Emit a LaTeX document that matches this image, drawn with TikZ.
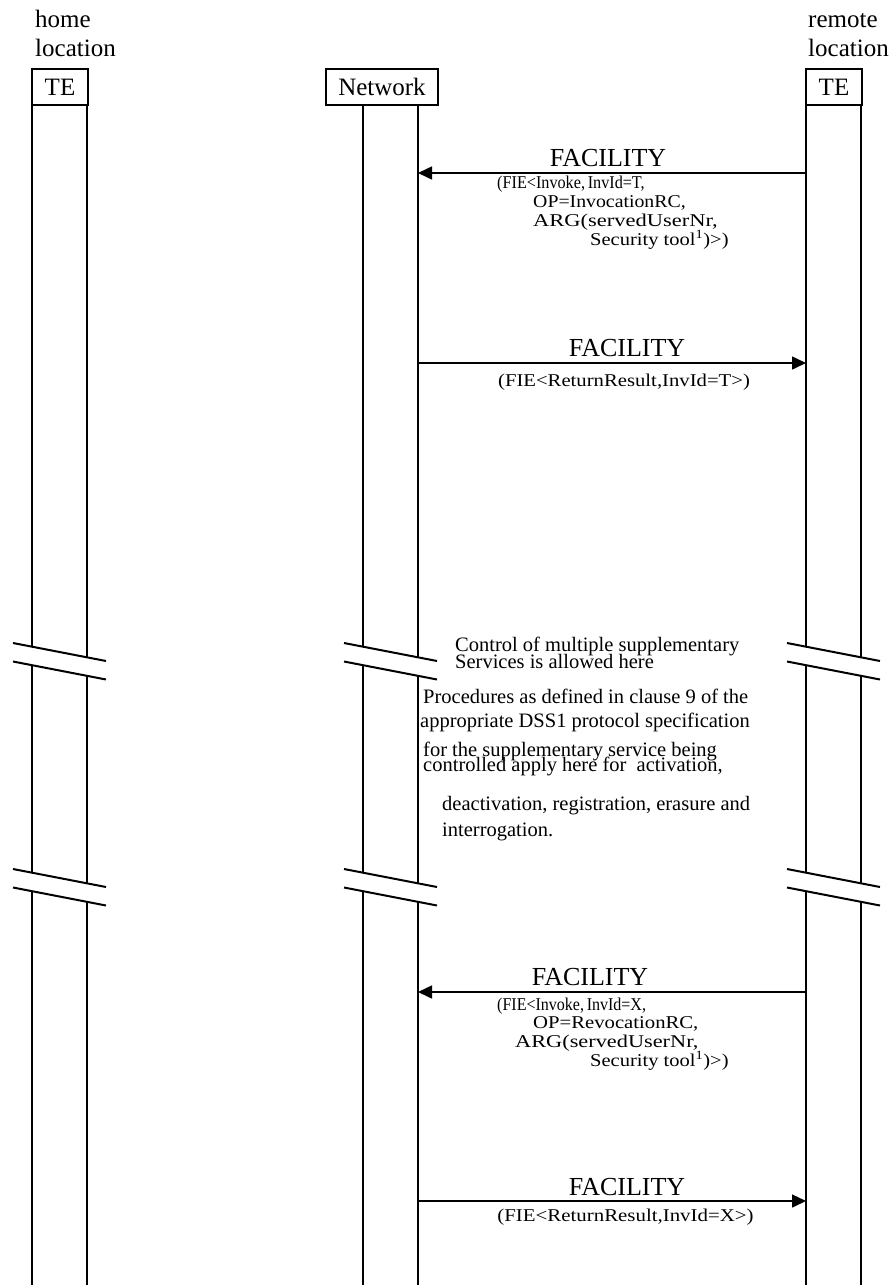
\documentclass[tikz,border=0pt]{standalone}
\usepackage{fontspec}
\usepackage{graphicx}
\setmainfont{Liberation Serif}
\usetikzlibrary{arrows.meta}

% horizontally stretched parameter text
\newcommand\wide[2]{\scalebox{#1}[1]{#2}}

% one unit = 1pt, y grows downwards
\begin{document}
\begin{tikzpicture}[x=1pt,y=-1pt,
  hdr/.style={font=\fontsize{25}{29}\selectfont, inner sep=0pt, anchor=base west},
  entity/.style={draw, line width=2pt, minimum height=36pt, inner sep=0pt,
                 font=\fontsize{25}{29}\selectfont},
  life/.style={line width=2pt},
  brkline/.style={line width=2pt},
  msg/.style={line width=1.5pt, -{Triangle[length=14pt,width=13pt]}},
  msgname/.style={font=\fontsize{26}{30}\selectfont, inner sep=0pt, anchor=base},
  param/.style={font=\fontsize{18}{21}\selectfont, inner sep=0pt, anchor=base west},
  note/.style={font=\fontsize{20.5}{24}\selectfont, inner sep=0pt, anchor=base west},
]
\useasboundingbox (0,0) rectangle (895,1285);

% location captions
\node[hdr] (homeA) at (35,27) {home};
\node[hdr] (homeB) at (35,56) {location};
\node[hdr] (remA) at (808,27) {remote};
\node[hdr] (remB) at (808,56) {location};

% entity boxes
\node[entity, minimum width=56pt]  (teA) at (60,87)  {TE};
\node[entity, minimum width=112pt] (net) at (382,87) {Network};
\node[entity, minimum width=56pt]  (teB) at (834,87) {TE};

% break marks: #1 = left end of the slashes, #2 = top of the upper slash
\newcommand\brkmark[2]{%
  \draw[brkline] (#1,#2) -- ++(93,18);
  \draw[brkline] (#1,{#2+18.5}) -- ++(93,18);}
% lifeline at x=#1, offset #2 from the left end of its break marks
\newcommand\lifeln[2]{%
  \draw[life] (#1,105) -- (#1,{643+#2*18/93})
              (#1,{661.5+#2*18/93}) -- (#1,{869+#2*18/93})
              (#1,{887.5+#2*18/93}) -- (#1,1285);}

\lifeln{32}{19}  \lifeln{87}{74}
\lifeln{363}{19} \lifeln{418}{74}
\lifeln{806}{19} \lifeln{861}{74}

\foreach \bx in {13,344,787}{
  \brkmark{\bx}{643}
  \brkmark{\bx}{869}
}

% message end points on the lifelines
\coordinate (r1) at (806,173);  \coordinate (n1) at (418,173);
\coordinate (n2) at (418,363);  \coordinate (r2) at (806,363);
\coordinate (r3) at (806,992);  \coordinate (n3) at (418,992);
\coordinate (n4) at (418,1201); \coordinate (r4) at (806,1201);

\draw[msg] (r1) -- (n1);
\draw[msg] (n2) -- (r2);
\draw[msg] (r3) -- (n3);
\draw[msg] (n4) -- (r4);

% first FACILITY
\node[msgname] (f1) at (608,166.5) {FACILITY};
\node[param] (f1a) at (497,188.5) {\wide{0.9}{(FIE<Invoke,\,InvId=T,}};
\node[param] (f1b) at (533,207) {\wide{1.1}{OP=InvocationRC,}};
\node[param] (f1c) at (533,226) {\wide{1.25}{ARG(servedUserNr,}};
\node[param] (f1d) at (590,245) {\wide{1.14}{Security tool\textsuperscript{1})>)}};

% second FACILITY
\node[msgname] (f2) at (627,356.5) {FACILITY};
\node[param, anchor=base] (f2a) at (624,386.5) {\wide{1.15}{(FIE<ReturnResult,InvId=T>)}};

% note between the break marks
\node[note] (c1) at (455,651.5) {Control of multiple supplementary};
\node[note] (c2) at (455,668) {Services is allowed here};
\node[note] (c3) at (423,703) {Procedures as defined in clause 9 of the};
\node[note] (c4) at (420,727) {appropriate DSS1 protocol specification};
\node[note] (c5) at (423,756) {for the supplementary service being};
\node[note] (c6) at (423,771) {controlled apply here for~~activation,};
\node[note] (c7) at (442,810) {deactivation, registration, erasure and};
\node[note] (c8) at (442,836.5) {interrogation.};

% third FACILITY
\node[msgname] (f3) at (590,985) {FACILITY};
\node[param] (f3a) at (497,1010) {\wide{0.89}{(FIE<Invoke,\,InvId=X,}};
\node[param] (f3b) at (533,1028.5) {\wide{1.15}{OP=RevocationRC,}};
\node[param] (f3c) at (515,1047) {\wide{1.24}{ARG(servedUserNr,}};
\node[param] (f3d) at (590,1066) {\wide{1.14}{Security tool\textsuperscript{1})>)}};

% fourth FACILITY
\node[msgname] (f4) at (627,1195) {FACILITY};
\node[param, anchor=base] (f4a) at (625.5,1221.5) {\wide{1.16}{(FIE<ReturnResult,InvId=X>)}};
\end{tikzpicture}
\end{document}
